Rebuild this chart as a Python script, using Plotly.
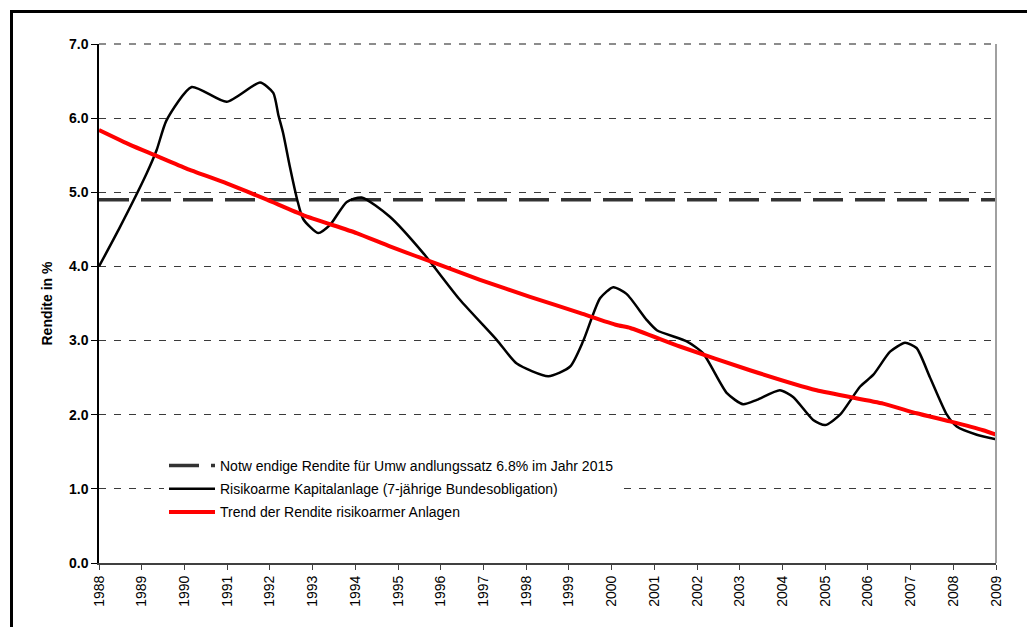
import plotly.graph_objects as go

# --- Data ---
years_tick = list(range(1988, 2010))

black_x = [1988.00, 1988.49, 1989.12, 1989.35, 1989.58, 1990.17, 1990.99, 1991.77,
           1992.08, 1992.20, 1992.31, 1992.47, 1992.64, 1992.78, 1993.13, 1993.41,
           1993.80, 1994.15,
           1994.81, 1995.59, 1996.45, 1997.31, 1997.78, 1998.52, 1999.03, 1999.34,
           1999.73, 2000.04, 2000.35, 2000.82, 2001.06, 2001.76, 2002.14, 2002.70,
           2003.08, 2003.40, 2003.94, 2004.25, 2004.72, 2005.00, 2005.35, 2005.82,
           2006.13, 2006.52, 2006.87, 2007.14, 2007.45, 2007.85, 2008.08, 2008.55, 2009.00]
black_y = [4.00, 4.53, 5.26, 5.57, 5.97, 6.42, 6.22, 6.48,
           6.34, 6.04, 5.80, 5.34, 4.90, 4.64, 4.45, 4.56,
           4.87, 4.93,
           4.67, 4.18, 3.55, 3.01, 2.69, 2.52, 2.65, 3.00,
           3.57, 3.72, 3.63, 3.28, 3.14, 2.99, 2.83, 2.29,
           2.14, 2.20, 2.33, 2.24, 1.93, 1.86, 2.00, 2.38,
           2.54, 2.85, 2.97, 2.90, 2.51, 2.00, 1.84, 1.73, 1.67]

red_x = [1988.00, 1988.73, 1989.31, 1990.05, 1990.99, 1991.93, 1992.79, 1994.03,
         1994.81, 1995.98, 1996.92, 1998.09, 1999.27, 2000.12, 2000.44, 2001.60,
         2003.24, 2004.80, 2006.36, 2007.14, 2007.92, 2008.70, 2009.00]
red_y = [5.84, 5.64, 5.50, 5.32, 5.12, 4.90, 4.69, 4.45,
         4.27, 4.02, 3.82, 3.59, 3.37, 3.21, 3.17, 2.92,
         2.60, 2.33, 2.15, 2.02, 1.91, 1.79, 1.73]

required_x = [1988, 2009]
required_y = [4.9, 4.9]

name_required = "Notw endige Rendite für Umw andlungssatz 6.8% im Jahr 2015"
name_black = "Risikoarme Kapitalanlage (7-jährige Bundesobligation)"
name_red = "Trend der Rendite risikoarmer Anlagen"

FONT = "Liberation Sans, Arial, sans-serif"

fig = go.Figure()
fig.add_trace(go.Scatter(x=required_x, y=required_y, mode="lines", name=name_required,
                         legendgroup="a",
                         line=dict(color="#333333", width=3.5, dash="30px,12px")))
fig.add_trace(go.Scatter(x=black_x, y=black_y, mode="lines", name=name_black,
                         legendgroup="b",
                         line=dict(color="#000000", width=2.5, shape="spline", smoothing=0.6)))
fig.add_trace(go.Scatter(x=red_x, y=red_y, mode="lines", name=name_red,
                         legendgroup="c",
                         line=dict(color="#FF0000", width=4, shape="spline", smoothing=0.5)))

W, H = 1027, 627
L, R, T, B = 99, 31, 44, 64
pw = W - L - R
ph = H - T - B

def px_to_paper_x(px):
    return (px - L) / pw

def px_to_paper_y(py):
    return (H - B - py) / ph

# outer border (clipped at right and bottom)
fig.add_shape(type="rect", xref="paper", yref="paper",
              x0=px_to_paper_x(11.5), x1=px_to_paper_x(1060),
              y0=px_to_paper_y(700), y1=px_to_paper_y(11.5),
              line=dict(color="black", width=3), fillcolor="rgba(0,0,0,0)", layer="above")
# right border of plot area
fig.add_shape(type="line", xref="paper", yref="paper", x0=1, x1=1, y0=0, y1=1,
              line=dict(color="#a0a0a0", width=2), layer="above")
# top line of plot area (gray dashed)
fig.add_shape(type="line", xref="paper", yref="paper", x0=0, x1=1, y0=1, y1=1,
              line=dict(color="#8c8c8c", width=2, dash="7px,8px"), layer="above")

fig.update_layout(
    width=W, height=H,
    margin=dict(l=L, r=R, t=T, b=B, pad=0),
    paper_bgcolor="white", plot_bgcolor="white",
    font=dict(family=FONT, size=14, color="black"),
    showlegend=True,
    legend=dict(x=px_to_paper_x(164), y=px_to_paper_y(450), xanchor="left", yanchor="top",
                bgcolor="white", borderwidth=0, font=dict(family=FONT, size=14),
                tracegroupgap=2, traceorder="grouped", itemwidth=46),
)
fig.update_xaxes(range=[1988, 2009], tickmode="array", tickvals=years_tick,
                 ticktext=[str(y) for y in years_tick], tickangle=-90,
                 ticks="outside", ticklen=5, tickcolor="#404040",
                 showline=True, linecolor="#404040", linewidth=2,
                 showgrid=False, zeroline=False,
                 tickfont=dict(family=FONT, size=14))
fig.update_yaxes(range=[0, 7], tickmode="array", tickvals=[0, 1, 2, 3, 4, 5, 6, 7],
                 ticktext=["<b>%.1f</b>" % v for v in [0, 1, 2, 3, 4, 5, 6, 7]],
                 ticks="outside", ticklen=6, tickcolor="black",
                 showline=True, linecolor="black", linewidth=1.5,
                 showgrid=True, gridcolor="#3a3a3a", gridwidth=1, griddash="7px,8px",
                 zeroline=False,
                 tickfont=dict(family=FONT, size=14),
                 title=dict(text="<b>Rendite in %</b>", font=dict(family=FONT, size=14), standoff=13))

fig.write_html("out.html", config={"displayModeBar": False},
               post_script="document.body.style.margin='0';document.body.style.overflow='hidden';")
